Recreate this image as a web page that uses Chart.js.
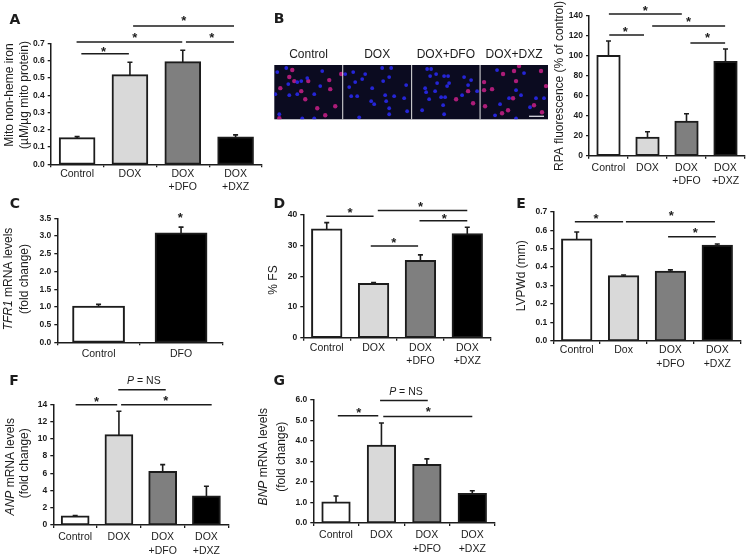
<!DOCTYPE html>
<html>
<head>
<meta charset="utf-8">
<title>Panels A-G</title>
<script src="https://cdn.jsdelivr.net/npm/chart.js@4"></script>
<style>
  html, body { margin: 0; padding: 0; background: #fff; }
  #figure { position: relative; width: 750px; height: 560px; overflow: hidden; }
  canvas { position: absolute; }
</style>
</head>
<body>
<div id="figure"></div>
<script>
const FONT = '"Liberation Sans", Arial, sans-serif';
const INK = '#1c1c1c';

// categories
const fourGroups = [['Control'], ['DOX'], ['DOX', '+DFO'], ['DOX', '+DXZ']];
const doxLowerGroups = [['Control'], ['Dox'], ['DOX', '+DFO'], ['DOX', '+DXZ']];
const twoGroups = ['Control', 'DFO'];
const imageTitles = ['Control', 'DOX', 'DOX+DFO', 'DOX+DXZ'];

// bar fills
const fourFills = ['#ffffff', '#d9d9d9', '#7f7f7f', '#000000'];
const twoFills = ['#ffffff', '#000000'];

// series values and upper error bars
const aValues = [0.15, 0.515, 0.59, 0.155];
const aErrors = [0.01, 0.075, 0.07, 0.015];
const bValues = [100, 18, 34, 94];
const bErrors = [15, 6, 8, 13];
const cValues = [1.0, 3.07];
const cErrors = [0.07, 0.18];
const dValues = [35.3, 17.5, 25, 33.7];
const dErrors = [2.2, 0.5, 2, 2.3];
const eValues = [0.55, 0.35, 0.375, 0.515];
const eErrors = [0.04, 0.007, 0.01, 0.01];
const fValues = [1, 10.4, 6.15, 3.3];
const fErrors = [0.1, 2.8, 0.85, 1.2];
const gValues = [1, 3.77, 2.83, 1.42];
const gErrors = [0.32, 1.11, 0.3, 0.15];

// significance lines as [from category, to category, value], stars as [category, value]
const aLines = [[0.08, 0.98, 0.64], [-0.01, 1.99, 0.708], [2.06, 2.97, 0.708], [1.06, 2.97, 0.8]];
const aStars = [[0.5, 0.667], [1.09, 0.748], [2.55, 0.748], [2.02, 0.846]];
const bLines = [[0.01, 1.88, 142], [0.02, 0.91, 121], [1.12, 2.99, 130], [2.1, 2.99, 113]];
const bStars = [[0.94, 148], [0.43, 126.7], [2.05, 136], [2.54, 120]];
const cStars = [[0.99, 3.57]];
const dLines = [[-0.01, 1.0, 39.6], [1.09, 3.0, 41.5], [1.98, 3.0, 38.1], [0.94, 1.95, 29.9]];
const dStars = [[0.5, 41.5], [2.0, 43.5], [2.51, 39.4], [1.43, 31.8]];
const eLines = [[-0.04, 0.99, 0.646], [1.05, 2.95, 0.646], [1.95, 2.97, 0.565]];
const eStars = [[0.41, 0.673], [2.02, 0.688], [2.53, 0.597]];
const fLines = [[0.01, 0.96, 13.96], [1.05, 3.12, 13.96], [0.985, 2.07, 15.7]];
const fStars = [[0.49, 14.6], [2.07, 14.7]];
const fNote = [1.57, 16.7];
const gLines = [[0.04, 0.93, 5.23], [1.04, 3.0, 5.19], [0.97, 2.02, 5.98]];
const gStars = [[0.5, 5.48], [2.03, 5.55]];
const gNote = [1.54, 6.4];

// micrograph cells, x across the whole strip, y down from its top
const redCells = [
  [18,5],[15,12],[20,16],[34,16],[6,23],[27,26],[31,34],[55,15],[56,24],[43,43],[61,41],[51,50],[5,53],[67,9],
  [194,26],[182,34],[199,38],
  [229,9],[245,1],[240,6],[267,6],[242,16],[210,17],[210,25],[218,24],[239,33],[211,41],[272,21],[260,40],[268,47],[234,45],[228,48]
];
const blueCells = [
  [3,7],[12,3],[14,19],[27,16],[48,6],[23,29],[15,30],[40,29],[46,21],[1,29],[23,17],[5,49],[28,53],[40,53],[33,13],
  [79,7],[71,9],[91,9],[88,14],[108,3],[117,3],[115,12],[109,16],[81,17],[75,22],[98,23],[77,31],[83,31],[97,36],[100,39],[112,36],[111,30],[115,43],[115,49],[130,33],[133,46],[85,52],[120,31],[132,20],
  [153,4],[157,4],[156,11],[162,9],[170,11],[174,11],[163,18],[175,18],[190,12],[194,20],[151,23],[152,27],[161,26],[173,21],[155,34],[167,32],[171,32],[188,30],[169,40],[148,45],[170,49],[203,26],[197,15],
  [223,5],[250,8],[247,30],[242,25],[235,33],[226,39],[262,33],[270,33],[256,42],[221,50],[242,53]
];
const scaleBar = [[255, 51], [270, 51]];
const stripDividers = [68.5, 137.5, 206];

function drawRuns(ctx, runs, x, y, vertical) {
    ctx.save();
    ctx.translate(x, y);
    if (vertical) ctx.rotate(-Math.PI / 2);
    ctx.textBaseline = 'middle';
    ctx.textAlign = 'left';
    ctx.fillStyle = INK;
    let total = 0;
    runs.forEach(r => {
        ctx.font = r.font;
        total += ctx.measureText(r.text).width;
    });
    let pos = -total / 2;
    runs.forEach(r => {
        ctx.font = r.font;
        ctx.fillText(r.text, pos, 0);
        pos += ctx.measureText(r.text).width;
    });
    ctx.restore();
}

const plain = text => ({ text: text, font: '12px ' + FONT });
const slanted = text => ({ text: text, font: 'italic 12px ' + FONT });

// error bars, brackets, stars and hand placed text for one panel
function panelExtras(p) {
    return {
        id: 'panelExtras',
        afterDraw(chart) {
            const ctx = chart.ctx;
            const x = chart.scales.x;
            const y = chart.scales.y;
            const catX = v => x.getPixelForValue(0) + v * (x.getPixelForValue(1) - x.getPixelForValue(0));

            ctx.save();
            ctx.strokeStyle = INK;
            ctx.lineWidth = 1.6;
            const bars = chart.getDatasetMeta(0).data;
            p.errors.forEach((err, i) => {
                const top = y.getPixelForValue(p.values[i] + err);
                const base = y.getPixelForValue(p.values[i]);
                ctx.beginPath();
                ctx.moveTo(bars[i].x, base);
                ctx.lineTo(bars[i].x, top);
                ctx.moveTo(bars[i].x - 2.5, top);
                ctx.lineTo(bars[i].x + 2.5, top);
                ctx.stroke();
            });

            ctx.lineWidth = 1.5;
            (p.lines || []).forEach(l => {
                const py = y.getPixelForValue(l[2]);
                ctx.beginPath();
                ctx.moveTo(catX(l[0]), py);
                ctx.lineTo(catX(l[1]), py);
                ctx.stroke();
            });

            ctx.fillStyle = INK;
            ctx.textAlign = 'center';
            ctx.textBaseline = 'alphabetic';
            ctx.font = 'bold 13px ' + FONT;
            (p.stars || []).forEach(s => {
                ctx.fillText('*', catX(s[0]), y.getPixelForValue(s[1]) + 6.5);
            });

            if (p.note) {
                drawRuns(ctx, [{ text: 'P', font: 'italic 10.5px ' + FONT }, { text: ' = NS', font: '10.5px ' + FONT }],
                    catX(p.note[0]), y.getPixelForValue(p.note[1]), false);
            }

            ctx.translate(-p.box[0], -p.box[1]);
            p.titles.forEach(t => drawRuns(ctx, t.runs, t.x, t.y, true));
            ctx.font = 'bold 14px "DejaVu Sans", ' + FONT;
            ctx.textBaseline = 'middle';
            ctx.fillText(p.letter, p.letterAt[0], p.letterAt[1]);
            ctx.restore();
        }
    };
}

function addCanvas(box) {
    const canvas = document.createElement('canvas');
    canvas.width = box[2];
    canvas.height = box[3];
    canvas.style.left = box[0] + 'px';
    canvas.style.top = box[1] + 'px';
    document.getElementById('figure').appendChild(canvas);
    return canvas;
}

function barPanel(p) {
    const [left, top, width, height] = p.box;
    const [plotL, plotT, plotR, plotB] = p.plot;
    const canvas = addCanvas(p.box);

    new Chart(canvas.getContext('2d'), {
        type: 'bar',
        data: {
            labels: p.labels,
            datasets: [{
                data: p.values,
                backgroundColor: p.fills,
                borderColor: INK,
                borderWidth: 2,
                borderSkipped: false,
                inflateAmount: 1,
                barPercentage: p.barPct,
                categoryPercentage: 1
            }]
        },
        options: {
            responsive: false,
            animation: false,
            devicePixelRatio: 1,
            layout: { padding: { left: 0, top: plotT - top, right: left + width - plotR, bottom: 0 } },
            plugins: { legend: { display: false }, tooltip: { enabled: false } },
            scales: {
                x: {
                    afterFit: s => { s.height = top + height - plotB; },
                    border: { color: INK, width: 1.5 },
                    grid: { drawOnChartArea: false, drawTicks: true, tickLength: 3, color: INK, lineWidth: 1.3 },
                    ticks: {
                        color: INK,
                        maxRotation: 0,
                        autoSkip: false,
                        padding: p.xPad,
                        font: { family: FONT, size: 10.5, lineHeight: 1.25 }
                    }
                },
                y: {
                    min: 0,
                    max: p.yMax,
                    afterFit: s => { s.width = plotL - left; },
                    border: { color: INK, width: 1.5 },
                    grid: { drawOnChartArea: false, drawTicks: true, tickLength: 3, color: INK, lineWidth: 1.3 },
                    ticks: {
                        color: INK,
                        stepSize: p.yStep,
                        padding: 3,
                        font: { family: FONT, size: 8.5, weight: 'bold' },
                        callback: v => v.toFixed(p.digits)
                    }
                }
            }
        },
        plugins: [panelExtras(p)]
    });
}

barPanel({
    box: [0, 0, 264, 198], plot: [50.7, 43.3, 262, 164.3], xPad: 0,
    labels: fourGroups, values: aValues, errors: aErrors, fills: fourFills,
    yMax: 0.7, yStep: 0.1, digits: 1, barPct: 0.655,
    lines: aLines, stars: aStars, letter: 'A', letterAt: [15, 20],
    titles: [
        { runs: [plain('Mito non-heme iron')], x: 9.5, y: 95 },
        { runs: [plain('(\u00b5M/\u00b5g mito protein)')], x: 24.5, y: 95 }
    ]
});

barPanel({
    box: [552, 0, 198, 190], plot: [589, 16, 745, 155.7], xPad: 2.5,
    labels: fourGroups, values: bValues, errors: bErrors, fills: fourFills,
    yMax: 140, yStep: 20, digits: 0, barPct: 0.57,
    lines: bLines, stars: bStars, letter: '', letterAt: [0, 0],
    titles: [{ runs: [plain('RPA fluorescence (% of control)')], x: 560, y: 86 }]
});

barPanel({
    box: [0, 190, 226, 175], plot: [57.3, 218.3, 222.3, 342.3], xPad: 2,
    labels: twoGroups, values: cValues, errors: cErrors, fills: twoFills,
    yMax: 3.5, yStep: 0.5, digits: 1, barPct: 0.615,
    stars: cStars, letter: 'C', letterAt: [15, 204],
    titles: [
        { runs: [slanted('TFR1'), plain(' mRNA levels')], x: 9, y: 279 },
        { runs: [plain('(fold change)')], x: 25, y: 279 }
    ]
});

barPanel({
    box: [264, 190, 232, 185], plot: [303.3, 215, 490.7, 337.7], xPad: 1,
    labels: fourGroups, values: dValues, errors: dErrors, fills: fourFills,
    yMax: 40, yStep: 10, digits: 0, barPct: 0.625,
    lines: dLines, stars: dStars, letter: 'D', letterAt: [279.3, 204],
    titles: [{ runs: [plain('% FS')], x: 273.5, y: 280 }]
});

barPanel({
    box: [512, 190, 236, 185], plot: [553.3, 211.7, 740.7, 341], xPad: 0,
    labels: doxLowerGroups, values: eValues, errors: eErrors, fills: fourFills,
    yMax: 0.7, yStep: 0.1, digits: 1, barPct: 0.625,
    lines: eLines, stars: eStars, letter: 'E', letterAt: [521, 204],
    titles: [{ runs: [plain('LVPWd (mm)')], x: 522, y: 275.7 }]
});

barPanel({
    box: [0, 370, 232, 190], plot: [53.3, 404.3, 228.3, 525], xPad: 3,
    labels: fourGroups, values: fValues, errors: fErrors, fills: fourFills,
    yMax: 14, yStep: 2, digits: 0, barPct: 0.61,
    lines: fLines, stars: fStars, note: fNote, letter: 'F', letterAt: [14, 381.7],
    titles: [
        { runs: [slanted('ANP'), plain(' mRNA levels')], x: 11, y: 466.7 },
        { runs: [plain('(fold change)')], x: 24.5, y: 463.3 }
    ]
});

barPanel({
    box: [256, 370, 244, 190], plot: [313.3, 400, 495, 523], xPad: 3,
    labels: fourGroups, values: gValues, errors: gErrors, fills: fourFills,
    yMax: 6, yStep: 1, digits: 1, barPct: 0.6,
    lines: gLines, stars: gStars, note: gNote, letter: 'G', letterAt: [279.3, 381.7],
    titles: [
        { runs: [slanted('BNP'), plain(' mRNA levels')], x: 263.5, y: 456.7 },
        { runs: [plain('(fold change)')], x: 281.5, y: 456.7 }
    ]
});

// micrograph strip of panel B, drawn as a scatter of the cells
const stripBox = [262, 0, 290, 126];
const toPoints = list => list.map(c => ({ x: c[0], y: c[1] }));

new Chart(addCanvas(stripBox).getContext('2d'), {
    type: 'scatter',
    data: {
        datasets: [
            { data: toPoints(blueCells), backgroundColor: 'rgba(40,40,235,0.9)', pointRadius: 1.9, borderWidth: 0 },
            { data: toPoints(redCells), backgroundColor: 'rgba(190,30,130,0.9)', pointRadius: 2.2, borderWidth: 0 },
            { data: toPoints(scaleBar), showLine: true, borderColor: '#e8e8f0', borderWidth: 1.2, pointRadius: 0 }
        ]
    },
    options: {
        responsive: false,
        animation: false,
        devicePixelRatio: 1,
        layout: { padding: { left: 12.3, top: 65, right: 3.7, bottom: 6.7 } },
        plugins: { legend: { display: false }, tooltip: { enabled: false } },
        scales: {
            x: { type: 'linear', display: false, min: 0, max: 274 },
            y: { type: 'linear', display: false, min: 0, max: 54, reverse: true }
        }
    },
    plugins: [{
        id: 'stripFrame',
        beforeDatasetsDraw(chart) {
            const area = chart.chartArea;
            const ctx = chart.ctx;
            ctx.fillStyle = '#0b0b20';
            ctx.fillRect(area.left, area.top, area.right - area.left, area.bottom - area.top);
            ctx.filter = 'blur(0.7px)';
        },
        afterDatasetsDraw(chart) {
            chart.ctx.filter = 'none';
        },
        afterDraw(chart) {
            const area = chart.chartArea;
            const ctx = chart.ctx;
            ctx.save();
            ctx.strokeStyle = '#e4e4e4';
            ctx.lineWidth = 1;
            stripDividers.forEach(d => {
                const px = chart.scales.x.getPixelForValue(d);
                ctx.beginPath();
                ctx.moveTo(px, area.top);
                ctx.lineTo(px, area.bottom);
                ctx.stroke();
            });
            imageTitles.forEach((t, i) => {
                const from = i === 0 ? 0 : stripDividers[i - 1];
                const to = i === 3 ? 274 : stripDividers[i];
                const mid = chart.scales.x.getPixelForValue((from + to) / 2);
                drawRuns(ctx, [plain(t)], mid, area.top - 10.5, false);
            });
            ctx.font = 'bold 14px "DejaVu Sans", ' + FONT;
            ctx.fillStyle = INK;
            ctx.textBaseline = 'middle';
            ctx.textAlign = 'center';
            ctx.fillText('B', 279 - stripBox[0], 19);
            ctx.restore();
        }
    }]
});
</script>
</body>
</html>
